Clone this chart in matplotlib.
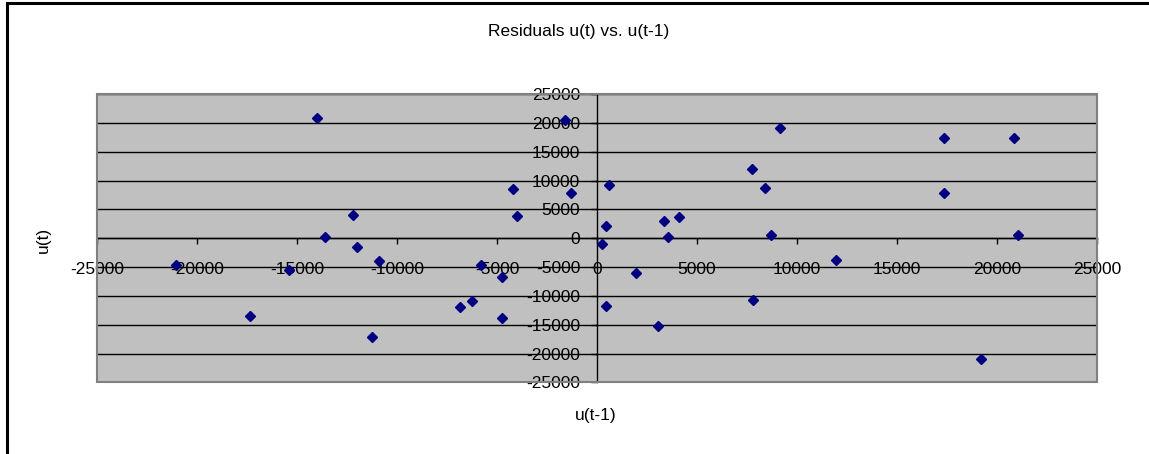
import matplotlib
matplotlib.use("Agg")
import matplotlib.pyplot as plt
from matplotlib.patches import Rectangle

plt.rcParams['font.family'] = ['Liberation Sans', 'DejaVu Sans']

# Lagged residual pairs: u(t-1) on x, u(t) on y
u_prev = [-14000, -1600, -4200, -1300, -4000, -12200, -13600, -12000,
          -10900, -21050, -15400, -5800, -4770, -17370, -11270, -6850,
          -6230, -4770, 600, 460, 250, 3330, 4100, 3570, 7730, 8400,
          9130, 8700, 11930, 17370, 20830, 17370, 21050, 1930, 460,
          3050, 7790, 19220]
u_curr = [20970, 20600, 8500, 7900, 3870, 4100, 280, -1500,
          -4000, -4570, -5500, -4570, -6650, -13500, -17100, -11950,
          -10900, -13800, 9250, 2080, -1000, 3050, 3650, 280, 12050, 8700,
          19150, 570, -3750, 17380, 17380, 7900, 570, -6050, -11750,
          -15300, -10700, -20900]

ticks = [-25000, -20000, -15000, -10000, -5000, 0, 5000, 10000, 15000, 20000, 25000]
tick_labels = [str(t) for t in ticks]

W, H = 1149, 454
fig = plt.figure(figsize=(W / 100, H / 100), dpi=100)

# plot area in pixel terms
left, right, top, bottom = 97, 1097, 94.3, 382.3
ax = fig.add_axes([left / W, 1 - bottom / H, (right - left) / W, (bottom - top) / H])
ax.set_facecolor('#C0C0C0')
ax.set_xlim(-25000, 25000)
ax.set_ylim(-25000, 25000)

# horizontal gridlines
ax.set_yticks(ticks)
ax.set_xticks(ticks)
ax.yaxis.grid(True, color='black', linewidth=1.0)
ax.set_axisbelow(True)

# axes crossing at the origin
for side in ('top', 'right'):
    ax.spines[side].set_visible(False)
ax.spines['left'].set_position(('data', 0))
ax.spines['bottom'].set_position(('data', 0))
ax.spines['left'].set_linewidth(1.0)
ax.spines['bottom'].set_linewidth(1.0)
ax.spines['left'].set_zorder(2.5)
ax.spines['bottom'].set_zorder(2.5)

ax.set_xticklabels(tick_labels)
ax.set_yticklabels(tick_labels)
ax.tick_params(axis='x', direction='out', length=4, width=1, pad=13, labelsize=12.5)
ax.tick_params(axis='y', direction='out', length=4, width=1, pad=8, labelsize=12.5)

# grey frame around plot area
ax.add_patch(Rectangle((0, 0), 1, 1, transform=ax.transAxes, fill=False,
                       edgecolor='#808080', linewidth=1.5, clip_on=False, zorder=3))

ax.plot(u_prev, u_curr, linestyle='none', marker='D', markersize=5.5,
        color='#000080', markeredgecolor='#000080', zorder=4, clip_on=False)

# titles
fig.text(578.5 / W, 1 - 36 / H, 'Residuals u(t) vs. u(t-1)', ha='center',
         va='baseline', fontsize=12.5)
fig.text(596 / W, 1 - 415.5 / H, 'u(t-1)', ha='center', va='center', fontsize=12.5)
fig.text(43.3 / W, 1 - 239.5 / H, 'u(t)', ha='center', va='center',
         rotation=90, fontsize=12.5)

# outer chart border
fig.patches.append(Rectangle((7.3 / W, -0.2), 1.2, 1.2 - 3 / H,
                             transform=fig.transFigure, fill=False,
                             edgecolor='black', linewidth=2.2))

fig.savefig('out.png', dpi=100)
